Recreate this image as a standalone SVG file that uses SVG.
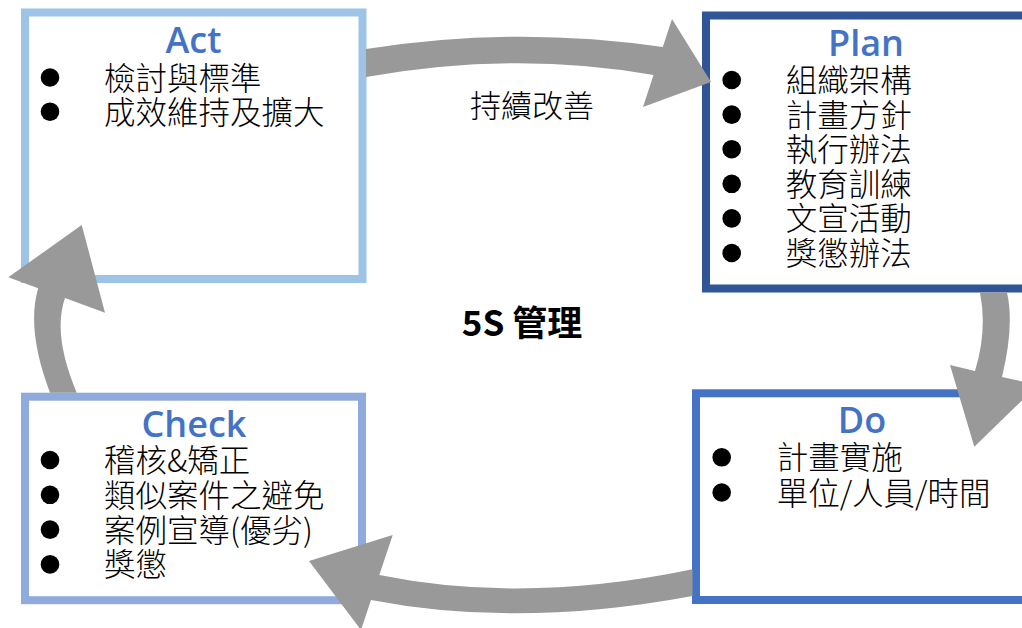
<svg xmlns="http://www.w3.org/2000/svg" width="1022" height="628" viewBox="0 0 1022 628">
<style>
.box{fill:#ffffff;stroke-width:8}
.title{font-family:"Open Sans","Noto Sans",sans-serif;font-size:36px;font-weight:600;fill:#4472C4;text-anchor:middle}
.item{font-family:"Noto Sans CJK TC","Noto Sans CJK SC",sans-serif;font-size:31.5px;font-weight:300;fill:#000000}
.dot{fill:#000000}
.arrow{fill:#999999}
.label{font-family:"Noto Sans CJK TC","Noto Sans CJK SC",sans-serif;font-size:31px;font-weight:300;fill:#000000}
.center{font-family:"Noto Sans CJK TC","Noto Sans CJK SC",sans-serif;font-size:35px;font-weight:bold;fill:#000000;text-anchor:middle}
</style>
<rect width="1022" height="628" fill="#ffffff"/>

<g id="act">
<rect class="box" x="25" y="12.5" width="337.5" height="266.5" stroke="#9DC3E6"/>
<text class="title" x="193.5" y="53.3">Act</text>
<circle class="dot" cx="50" cy="77.5" r="9.3"/>
<circle class="dot" cx="50" cy="111.7" r="9.3"/>
<text class="item" x="104" y="89.5">檢討與標準</text>
<text class="item" x="104" y="123.7">成效維持及擴大</text>
</g>

<g id="plan">
<rect class="box" x="706" y="15.5" width="340" height="273" stroke="#2F5597"/>
<text class="title" x="866" y="56">Plan</text>
<circle class="dot" cx="731.7" cy="80" r="9.3"/>
<circle class="dot" cx="731.7" cy="114.6" r="9.3"/>
<circle class="dot" cx="731.7" cy="149.2" r="9.3"/>
<circle class="dot" cx="731.7" cy="183.8" r="9.3"/>
<circle class="dot" cx="731.7" cy="218.4" r="9.3"/>
<circle class="dot" cx="731.7" cy="253" r="9.3"/>
<text class="item" x="785.7" y="92">組織架構</text>
<text class="item" x="785.7" y="126.6">計畫方針</text>
<text class="item" x="785.7" y="161.2">執行辦法</text>
<text class="item" x="785.7" y="195.8">教育訓練</text>
<text class="item" x="785.7" y="230.4">文宣活動</text>
<text class="item" x="785.7" y="265">獎懲辦法</text>
</g>

<g id="do">
<rect class="box" x="696" y="393.3" width="350" height="206.7" stroke="#4472C4"/>
<text class="title" x="862" y="433.3">Do</text>
<circle class="dot" cx="721.7" cy="457.3" r="9.3"/>
<circle class="dot" cx="721.7" cy="492.5" r="9.3"/>
<text class="item" x="776.7" y="469.3">計畫實施</text>
<text class="item" x="776.7" y="504.5">單位/人員/時間</text>
</g>

<g id="check">
<rect class="box" x="25" y="396.7" width="337" height="203.5" stroke="#8FAADC"/>
<text class="title" x="194" y="437">Check</text>
<circle class="dot" cx="50" cy="460" r="9.3"/>
<circle class="dot" cx="50" cy="494.8" r="9.3"/>
<circle class="dot" cx="50" cy="529.6" r="9.3"/>
<circle class="dot" cx="50" cy="564.4" r="9.3"/>
<text class="item" x="104" y="472">稽核&amp;矯正</text>
<text class="item" x="104" y="506.8">類似案件之避免</text>
<text class="item" x="104" y="541.6">案例宣導(優劣)</text>
<text class="item" x="104" y="576.4">獎懲</text>
</g>

<g id="connectors">
<path class="arrow" d="M 366 49 Q 515 25.4 662.8 47 L 672 19 L 711 82 L 643 107 L 653.5 75 Q 515 50.6 366 77 Z"/>
<path class="arrow" d="M 980 292.5 Q 987.5 330.5 975 371 L 950 365 L 974.3 446.7 L 1038 385 L 1002 377 Q 1014.5 325.5 1007 292.5 Z"/>
<path class="arrow" d="M 692.5 569.3 Q 524 604.5 379.3 575 L 392.7 535 L 309 561 L 361 630 L 371 600 Q 518 628.6 692.5 596 Z"/>
<path class="arrow" d="M 50 392.7 Q 26 329.5 38.2 288.2 L 8.3 277.3 L 81.7 225 L 105 312.7 L 65 298 Q 52.2 334.5 76.7 392.7 Z"/>
</g>

<g id="labels">
<text class="label" x="470" y="117">持續改善</text>
<text class="center" x="522" y="336">5S 管理</text>
</g>
</svg>
